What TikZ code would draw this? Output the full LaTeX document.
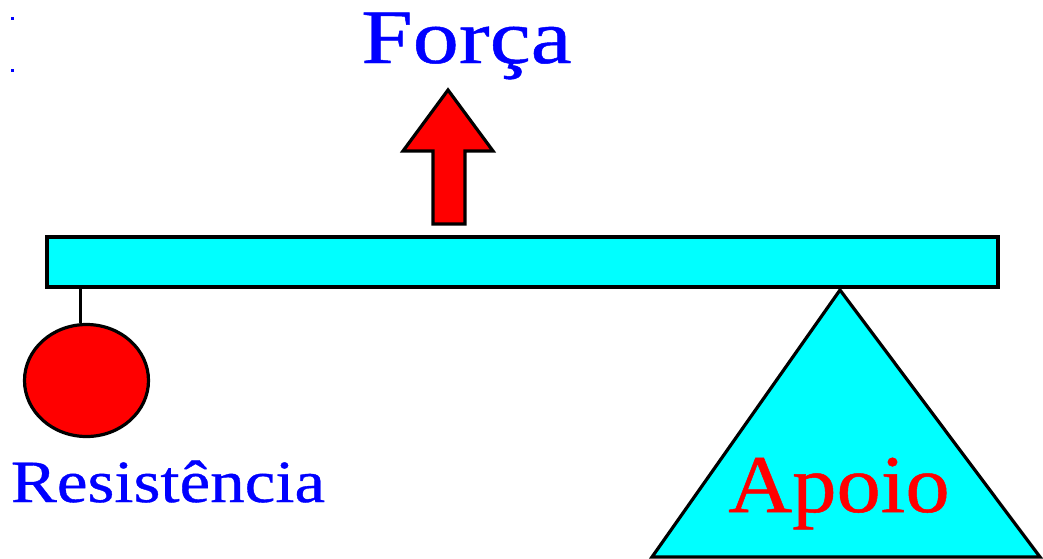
\documentclass[tikz,border=0pt]{standalone}
\usepackage{fontspec}
\setmainfont{Liberation Serif}
\usetikzlibrary{positioning, shapes.geometric}
\definecolor{bleu}{RGB}{0,0,255}
\definecolor{rouge}{RGB}{255,0,0}
\definecolor{ciel}{RGB}{0,255,255}

\begin{document}
\begin{tikzpicture}[x=1pt, y=-1pt,
    contour/.style={draw=black, line width=3.2pt, line join=miter},
    poutre/.style={contour, fill=ciel, rectangle, inner sep=0pt},
    masse/.style={contour, fill=rouge, ellipse, inner sep=0pt},
    etiquette/.style={anchor=base, inner sep=0pt}]
    \useasboundingbox (0,0) rectangle (1043,558);
    % Points parasites
    \fill[bleu] (11,17) rectangle (13.5,19.5);
    \fill[bleu] (11,69) rectangle (13.5,71.5);
    % Appui
    \draw[contour, fill=ciel] (840,290) -- (1040,557) -- (652,557) -- cycle;
    % Barre
    \node[poutre, minimum width=951pt, minimum height=50pt] (barre) at (522.5,262) {};
    % Resistance
    \node[masse, minimum width=124pt, minimum height=112pt] (poids) at (86.5,380.5) {};
    \coordinate (crochet) at (80,287);
    \draw[line width=3pt] (barre.south -| crochet) -- (poids.north -| crochet);
    % Fleche de force
    \draw[contour, fill=rouge] (433,224) -- (433,151) -- (403,151) -- (448,90)
      -- (493,151) -- (465,151) -- (465,224) -- cycle;
    % Textes
    \node[etiquette, text=bleu, font={\fontsize{77}{80}\selectfont\addfontfeatures{FakeStretch=1.2, FakeBold=0.6}}] (force) at (466.5,63) {Força};
    \node[etiquette, text=bleu, font={\fontsize{60}{64}\selectfont\addfontfeatures{FakeStretch=1.15, FakeBold=0.6}}] (resistance) at (168,502) {Resistência};
    \node[etiquette, text=rouge, font={\fontsize{82}{86}\selectfont\addfontfeatures{FakeStretch=1.08, FakeBold=0.6}}] (appui) at (839,512) {Apoio};
\end{tikzpicture}
\end{document}
